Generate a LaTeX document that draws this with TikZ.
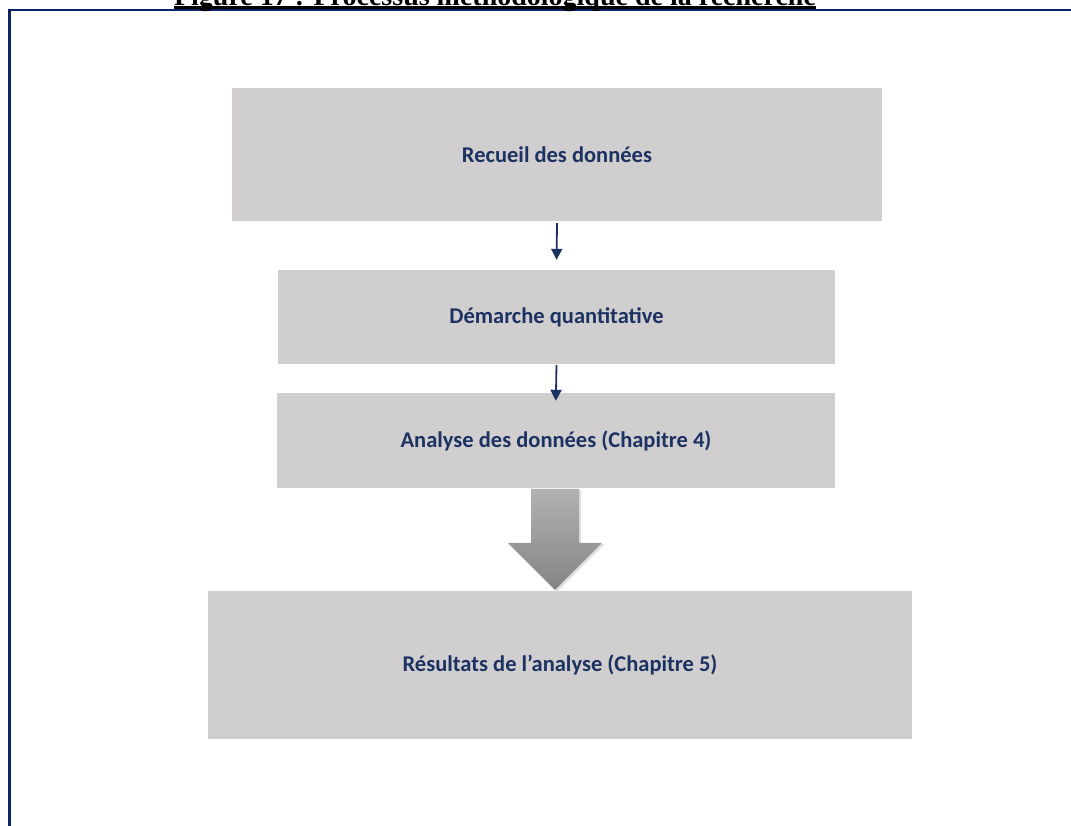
\documentclass[tikz,border=0pt]{standalone}
\usepackage{fontspec}
\setmainfont{Carlito}
\newfontfamily\titlefont{Liberation Serif}
\usetikzlibrary{arrows.meta,positioning,calc}
\definecolor{navy}{RGB}{28,50,98}
\definecolor{framecol}{RGB}{10,36,100}
\definecolor{boxgray}{RGB}{208,206,206}

\begin{document}
\begin{tikzpicture}[x=1pt,y=-1pt,
    stage/.style={fill=boxgray,draw=none,inner sep=0pt,text=navy,
      font=\fontsize{22.5}{26}\selectfont\bfseries},
    link/.style={navy,line width=1.8pt,-{Triangle[length=11pt,width=11pt]}}]
  \useasboundingbox (0,0) rectangle (1071,825);
  \clip (0,0) rectangle (1071,825);
  % frame and (cut) caption
  \draw[framecol,line width=2.6pt] (1071,10) -- (9.5,10) -- (9.5,826);
  \node[anchor=base,inner sep=0pt,font=\titlefont\fontsize{28}{30}\selectfont\bfseries] (title) at (495,5)
    {Figure 17 : Processus méthodologique de la recherche};
  \draw[line width=3pt] ([yshift=-2pt]title.base west) -- ([yshift=-2pt]title.base east);
  % stages
  \node[stage,minimum width=650,minimum height=133] (recueil) at (557,154.5) {Recueil des données};
  \node[stage,minimum width=557,minimum height=94] (demarche) at (556.5,317) {Démarche quantitative};
  \node[stage,minimum width=558,minimum height=95] (analyse) at (556,440.5) {Analyse des données (Chapitre 4)};
  \node[stage,minimum width=704,minimum height=148] (resultats) at (560,665) {Résultats de l’analyse (Chapitre 5)};
  \draw[link,shorten <=2pt,shorten >=10pt] (recueil.south) -- (demarche.north);
  \draw[link,shorten <=1pt,shorten >=-8pt] (demarche.south) -- (analyse.north);
  % big block arrow
  \coordinate (tip) at ($(resultats.north)+(-5,-1)$);
  \fill[black!12] ($(tip)+(-22,-100)$) -- ++(48,0) -- ++(0,54) -- ++(24,0) -- ($(tip)+(2,2)$)
    -- ($(tip)+(-47,-46)$) -- ++(24,0) -- cycle;
  \shade[top color={rgb,255:red,178;green,178;blue,178},bottom color={rgb,255:red,132;green,132;blue,132}]
    ($(tip)+(-24,-101)$) -- ++(48,0) -- ++(0,54) -- ++(23,0) -- (tip) -- ++(-47,-47) -- ++(23,0) -- cycle;
\end{tikzpicture}
\end{document}
